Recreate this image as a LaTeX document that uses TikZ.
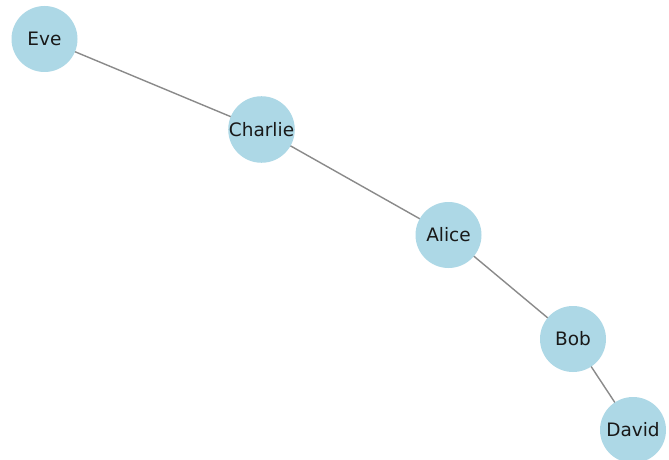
\documentclass[tikz,border=0pt]{standalone}
\usepackage{fontspec}
\setmainfont{DejaVu Sans}
\definecolor{nodeblue}{RGB}{173,216,230}
\definecolor{edgegray}{RGB}{138,138,138}
\tikzset{
  vertex/.style={circle, fill=nodeblue, draw=none, minimum size=66pt, inner sep=0pt,
    font=\fontsize{18.5}{21}\selectfont, text=black!90},
  edge/.style={draw=edgegray, line width=1.4pt}
}
\begin{document}
\begin{tikzpicture}[x=1pt,y=-1pt]
\clip (0,0) rectangle (669,460);
\useasboundingbox (0,0) rectangle (669,460);
\fill[white] (0,0) rectangle (669,460);
\coordinate (pe) at (44.5,39);
\coordinate (pc) at (261.5,129.5);
\coordinate (pa) at (448.5,235);
\coordinate (pb) at (573,339);
\coordinate (pd) at (633,430);
\draw[edge] (pe) -- (pc) -- (pa) -- (pb) -- (pd);
\node[vertex] (eve) at (pe) {Eve};
\node[vertex] (charlie) at (pc) {Charlie};
\node[vertex] (alice) at (pa) {Alice};
\node[vertex] (bob) at (pb) {Bob};
\node[vertex] (david) at (pd) {David};
\end{tikzpicture}
\end{document}
